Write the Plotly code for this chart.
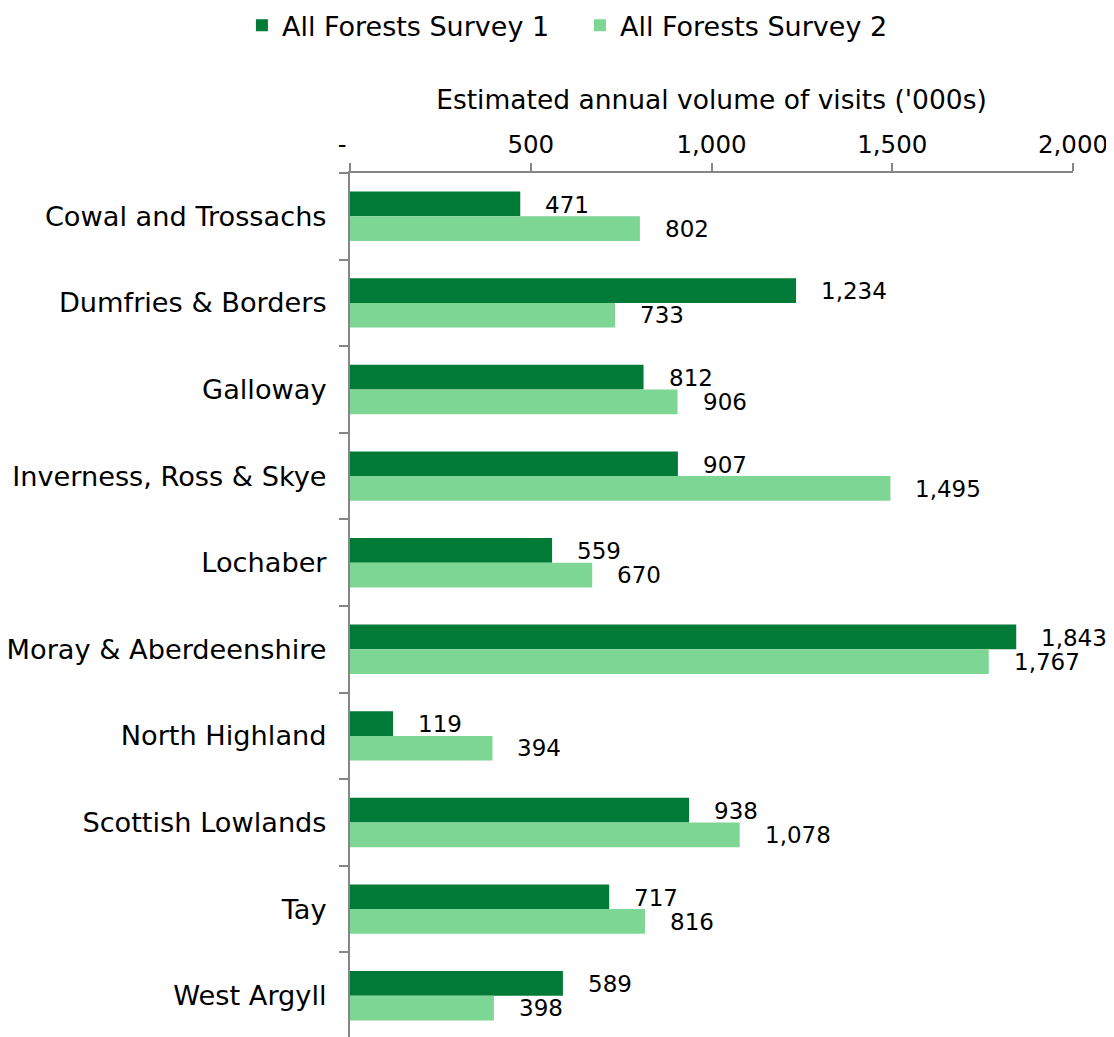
import plotly.graph_objects as go

regions = ["Cowal and Trossachs", "Dumfries & Borders", "Galloway",
           "Inverness, Ross & Skye", "Lochaber", "Moray & Aberdeenshire",
           "North Highland", "Scottish Lowlands", "Tay", "West Argyll"]
survey1 = [471, 1234, 812, 907, 559, 1843, 119, 938, 717, 589]
survey2 = [802, 733, 906, 1495, 670, 1767, 394, 1078, 816, 398]
series_names = ["All Forests Survey 1", "All Forests Survey 2"]
colors = ["#007A37", "#7ED694"]
tick_vals = [0, 500, 1000, 1500, 2000]
tick_text = ["-\u00a0\u00a0", "500", "1,000", "1,500", "2,000"]
axis_title = "Estimated annual volume of visits ('000s)"

FONT = "DejaVu Sans"
AXC = "#868686"
fig = go.Figure()
for name, vals, col in zip(series_names, [survey1, survey2], colors):
    fig.add_trace(go.Bar(y=regions, x=vals, name=name, orientation="h",
                         marker=dict(color=col, line=dict(width=0))))

# value labels
for vals, ysh in zip([survey1, survey2], [11.5, -12.5]):
    for r, v in zip(regions, vals):
        fig.add_annotation(x=v, y=r, text=f"{v:,}", showarrow=False,
                           xanchor="left", yanchor="middle", xshift=23, yshift=ysh,
                           font=dict(family=FONT, size=23, color="#000000"))

# page has an 8px body margin; compensate in margins
fig.update_layout(
    width=1114, height=1037,
    margin=dict(l=342, r=49, t=164.5, b=6, autoexpand=False),
    paper_bgcolor="white", plot_bgcolor="white",
    barmode="group", bargap=0.43, bargroupgap=0,
    font=dict(family=FONT, size=24, color="#000000"),
    legend=dict(orientation="h", x=0.318, xanchor="center", y=1.17, yanchor="middle",
                font=dict(family=FONT, size=27, color="#000000"), itemwidth=30,
                entrywidth=293, entrywidthmode="pixels",
                traceorder="normal", bgcolor="rgba(0,0,0,0)"),
    xaxis=dict(side="top", range=[0, 2000], tickvals=tick_vals, ticktext=tick_text,
               showgrid=False, zeroline=False, showline=True, linecolor=AXC,
               linewidth=2, ticks="outside", ticklen=8, tickcolor=AXC,
               tickwidth=2, tickfont=dict(family=FONT, size=24.5), ticklabelstandoff=0,
               title=dict(text=axis_title, font=dict(family=FONT, size=26.5), standoff=13)),
    yaxis=dict(autorange="reversed", showgrid=False, zeroline=False, showline=True,
               linecolor=AXC, linewidth=2, ticks="outside", ticklen=9,
               tickcolor=AXC, tickwidth=2, tickson="boundaries",
               tickfont=dict(family=FONT, size=27.2), ticklabelstandoff=16),
)
fig.write_html("out.html")
